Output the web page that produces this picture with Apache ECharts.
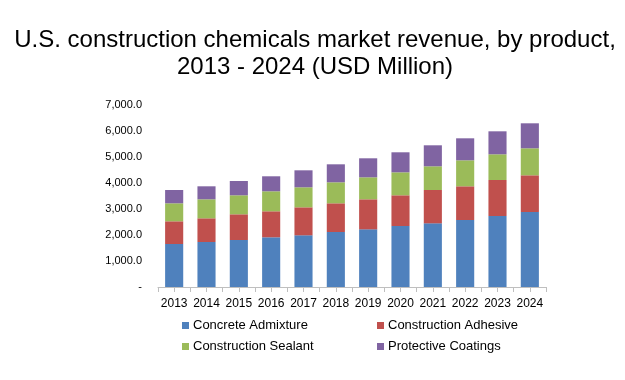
<!DOCTYPE html>
<html><head><meta charset="utf-8">
<script src="https://cdn.jsdelivr.net/npm/echarts@6/dist/echarts.min.js"></script>
<style>html,body{margin:0;padding:0;background:#fff}#c{width:625px;height:380px}</style>
</head><body><div id="c"></div>
<script>
var years = ['2013','2014','2015','2016','2017','2018','2019','2020','2021','2022','2023','2024'];
var concreteAdmixture = [1654,1731,1808,1912,1988,2116,2218,2346,2449,2577,2731,2885];
var constructionAdhesive = [873,911,988,1000,1077,1103,1155,1181,1282,1296,1385,1411];
var constructionSealant = [692,731,731,769,770,808,846,884,911,1000,988,1039];
var protectiveCoatings = [512,500,550,577,653,692,731,770,808,846,884,961];
var seriesNames = ['Concrete Admixture','Construction Adhesive','Construction Sealant','Protective Coatings'];
var colors = ['#4F81BD','#C0504D','#9BBB59','#8064A2'];
var seriesData = [concreteAdmixture, constructionAdhesive, constructionSealant, protectiveCoatings];
var halfTicks = [];
for (var i = 0; i < years.length * 2; i++) halfTicks.push(String(i));

var font = 'Arial, "Liberation Sans", sans-serif';
var chart = echarts.init(document.getElementById('c'), null, {renderer:'canvas'});

function legendAt(name, left, top) {
  return {
    data: [name], left: left, top: top, orient: 'horizontal',
    icon: 'rect', itemWidth: 7, itemHeight: 7, itemGap: 0, padding: 0,
    textStyle: {fontFamily: font, fontSize: 13, color: '#000', padding: [0,0,0,-1]},
    selectedMode: false
  };
}

chart.setOption({
  animation: false,
  color: colors,
  title: {
    text: 'U.S. construction chemicals market revenue, by product,\n2013 - 2024 (USD Million)',
    left: 310, top: 22, textAlign: 'center',
    textStyle: {fontFamily: font, fontSize: 24, fontWeight: 'normal', color: '#000', lineHeight: 27}
  },
  legend: [
    legendAt(seriesNames[0], 182, 319),
    legendAt(seriesNames[1], 377, 319),
    legendAt(seriesNames[2], 182, 340),
    legendAt(seriesNames[3], 377, 340)
  ],
  grid: {left: 158, right: 79, top: 105, bottom: 93, containLabel: false},
  xAxis: [{
    type: 'category', data: years, position: 'bottom',
    axisLine: {show: true, lineStyle: {color: '#BFBFBF', width: 1}},
    axisTick: {show: false},
    axisLabel: {fontFamily: font, fontSize: 12, color: '#000', margin: 11, interval: 0}
  }, {
    type: 'category', data: halfTicks, position: 'bottom',
    axisLine: {show: false},
    axisTick: {show: true, length: 5, interval: 0, lineStyle: {color: '#BFBFBF'}},
    axisLabel: {show: false}
  }],
  yAxis: {
    type: 'value', min: 0, max: 7000, interval: 1000,
    axisLine: {show: false}, axisTick: {show: false}, splitLine: {show: false},
    axisLabel: {
      fontFamily: font, fontSize: 11, color: '#000', margin: 16,
      formatter: function (v) {
        if (v === 0) return '-';
        return v.toLocaleString('en-US', {minimumFractionDigits: 1, maximumFractionDigits: 1});
      }
    }
  },
  series: seriesData.map(function (d, i) {
    return {
      name: seriesNames[i], type: 'bar', stack: 'total', data: d,
      xAxisIndex: 0, barWidth: '56%',
      itemStyle: {color: colors[i]}
    };
  })
});
</script></body></html>
